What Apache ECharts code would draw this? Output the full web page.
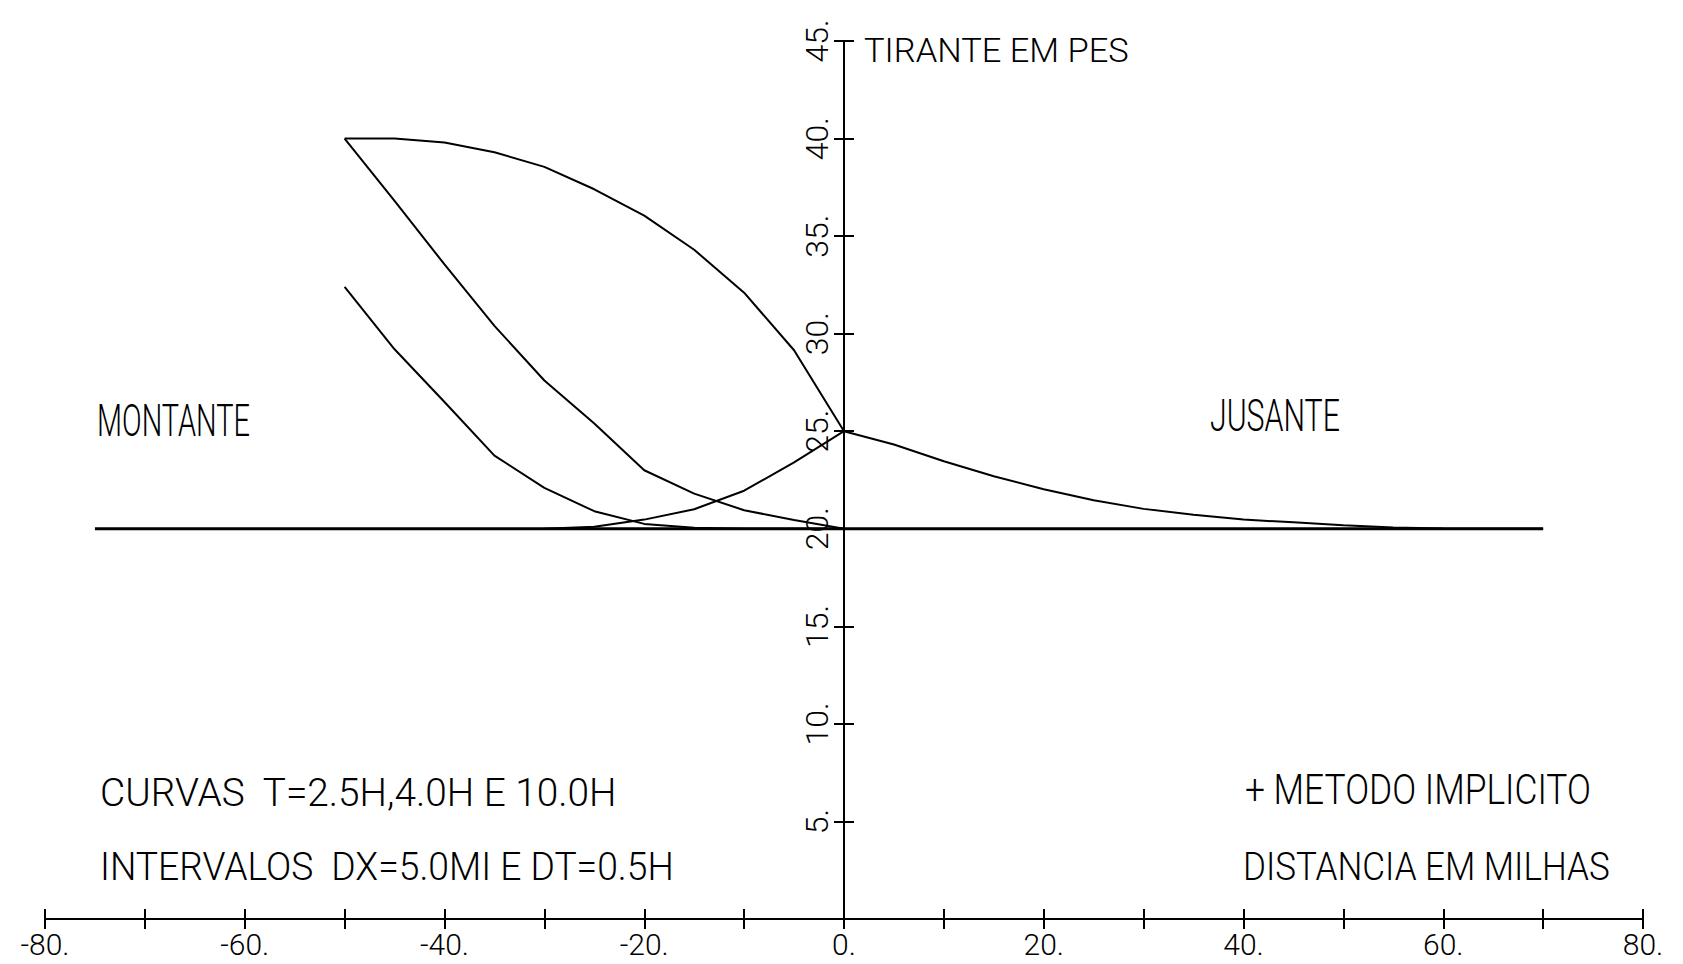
<!DOCTYPE html>
<html><head><meta charset="utf-8">
<script src="https://cdn.jsdelivr.net/npm/echarts@6/dist/echarts.min.js"></script>
<style>html,body{margin:0;padding:0;background:#fff}#c{width:1683px;height:964px}</style>
</head><body><div id="c"></div>
<script>
// ---- data (distance in miles, depth in feet) ----
const xUpstream = [-50, -45, -40, -35, -30, -25, -20, -15, -10, -5, 0];
const depthUpper = [40.0, 40.0, 39.8, 39.3, 38.55, 37.4, 36.05, 34.3, 32.1, 29.15, 25.0];
const depthMiddle = [40.0, 36.8, 33.55, 30.4, 27.6, 25.4, 23.0, 21.8, 20.95, 20.45, 20.0];
const depthLower = [32.4, 29.2, 26.5, 23.75, 22.1, 20.9, 20.25, 20.05, 20.0, 20.0, 20.0];
const xWave = [-30, -25, -20, -15, -10, -5, 0, 5, 10, 15, 20, 25, 30, 35, 40, 45, 50, 55, 60, 65, 70];
const depthWave = [20.0, 20.1, 20.47, 21.0, 21.95, 23.4, 25.0, 24.32, 23.46, 22.69, 22.03, 21.46, 21.02, 20.72, 20.47, 20.33, 20.18, 20.07, 20.02, 20.0, 20.0];
const xInitial = [-75, 70];
const depthInitial = [20, 20];

// ---- tick labels ----
const xLabelValues = [-80, -60, -40, -20, 0, 20, 40, 60, 80];
const yLabelValues = [5, 10, 15, 20, 25, 30, 35, 40, 45];

// ---- annotation texts ----
const annotationTexts = [
  'TIRANTE EM PES',
  'MONTANTE',
  'JUSANTE',
  'CURVAS  T=2.5H,4.0H E 10.0H',
  'INTERVALOS  DX=5.0MI E DT=0.5H',
  '+ METODO IMPLICITO',
  'DISTANCIA EM MILHAS'
];
// layout: [left, centerY, targetWidth, capHeight]
const annotationLayout = [
  [864, 50, 265, 24],
  [97, 421, 153, 31],
  [1210, 416, 130, 31],
  [100, 792, 517, 28],
  [100, 867, 574, 28],
  [1245, 789, 346, 30],
  [1243, 867, 367, 28]
];

const FONT = 'Roboto';
const WEIGHT = 300;
const CAP = 0.711;

const GRID = { left: 45, right: 40, top: 41, bottom: 45 };
const CHART_W = 1683;
const X_MIN = -80, X_MAX = 80;
// shift of the y axis from the grid's left edge to the x = 0 position
const yAxisShift = (CHART_W - GRID.left - GRID.right) * (0 - X_MIN) / (X_MAX - X_MIN);

const mctx = document.createElement('canvas').getContext('2d');
function textWidth(t, size) {
  mctx.font = WEIGHT + ' ' + size + 'px ' + FONT;
  return mctx.measureText(t).width;
}

const graphics = annotationTexts.map((t, i) => {
  const [left, cy, w, cap] = annotationLayout[i];
  const size = Math.round(cap / CAP);
  const sx = w / textWidth(t, size);
  return {
    type: 'text', x: left, y: cy, scaleX: sx, scaleY: 1,
    style: {
      text: t, fontSize: size, fontFamily: FONT, fontWeight: WEIGHT, fill: '#000',
      align: 'left', verticalAlign: 'middle', textAlign: 'left', textVerticalAlign: 'middle'
    }
  };
});

const pairs = (xs, ys) => xs.map((x, i) => [x, ys[i]]);
function lineSeries(name, xs, ys, w) {
  return {
    name, type: 'line', data: pairs(xs, ys), symbol: 'none', showSymbol: false,
    lineStyle: { color: '#000', width: w || 2 }, silent: true, z: 3
  };
}

const axisFont = { fontFamily: FONT, fontWeight: WEIGHT, color: '#000', lineHeight: 26 };
const baseX = {
  type: 'value', min: X_MIN, max: X_MAX, interval: 10, position: 'bottom',
  splitLine: { show: false },
  axisLine: { show: true, onZero: false, lineStyle: { color: '#000', width: 2 } }
};
const baseY = {
  type: 'value', min: 0, max: 45, interval: 5, position: 'left', offset: -yAxisShift,
  splitLine: { show: false },
  axisLine: { show: true, onZero: false, lineStyle: { color: '#000', width: 2 } }
};

const chart = echarts.init(document.getElementById('c'), null, { renderer: 'svg' });
chart.setOption({
  animation: false,
  backgroundColor: '#fff',
  grid: Object.assign({ containLabel: false }, GRID),
  xAxis: [
    Object.assign({}, baseX, {
      axisTick: { show: true, inside: false, length: 10, lineStyle: { color: '#000', width: 2 } },
      axisLabel: Object.assign({ margin: 12, fontSize: 30, formatter: v => xLabelValues.includes(v) ? v + '.' : '' }, axisFont)
    }),
    Object.assign({}, baseX, {
      axisTick: { show: true, inside: true, length: 10, lineStyle: { color: '#000', width: 2 } },
      axisLabel: { show: false }
    })
  ],
  yAxis: [
    Object.assign({}, baseY, {
      axisTick: { show: true, inside: false, length: 10, lineStyle: { color: '#000', width: 2 } },
      axisLabel: Object.assign({ margin: 14, fontSize: 32, rotate: 90, formatter: v => yLabelValues.includes(v) ? v + '.' : '' }, axisFont)
    }),
    Object.assign({}, baseY, {
      axisTick: { show: true, inside: true, length: 10, lineStyle: { color: '#000', width: 2 } },
      axisLabel: { show: false }
    })
  ],
  series: [
    lineSeries('Inicial', xInitial, depthInitial, 3),
    lineSeries('T=10.0H', xUpstream, depthUpper),
    lineSeries('T=4.0H', xUpstream, depthMiddle),
    lineSeries('T=2.5H', xUpstream, depthLower),
    lineSeries('Onda', xWave, depthWave)
  ],
  graphic: graphics
});
</script>
</body></html>
